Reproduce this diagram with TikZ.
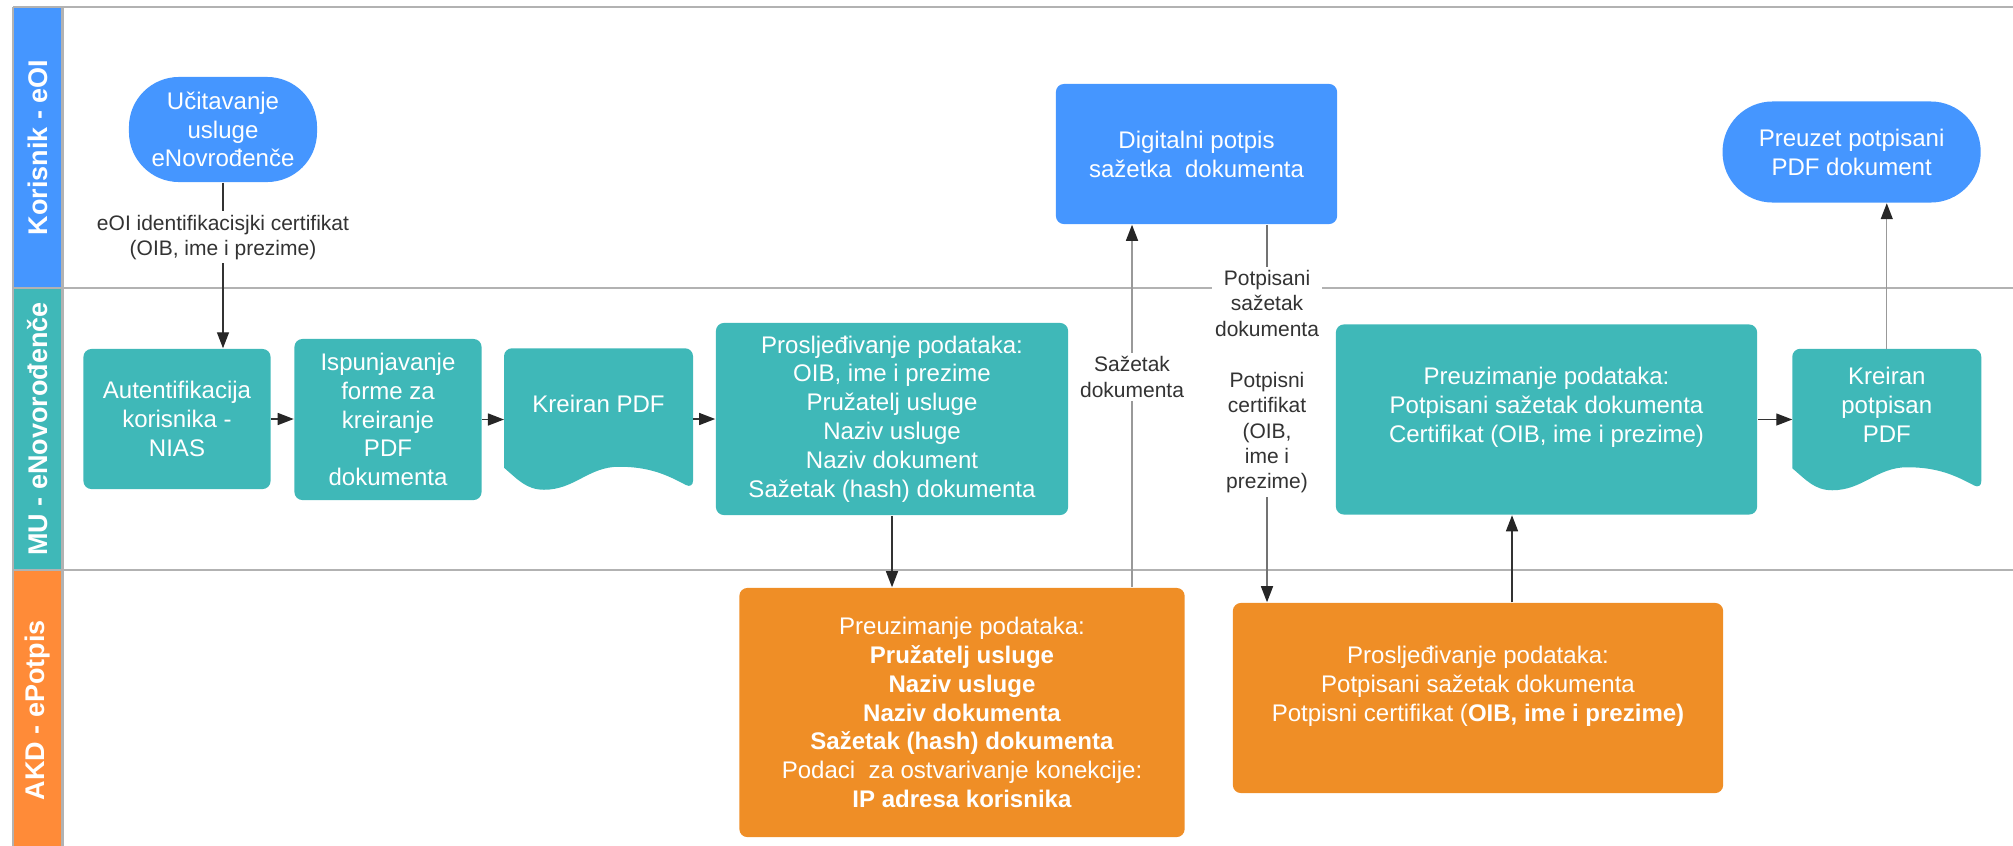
\documentclass[tikz,border=0pt]{standalone}
\usepackage{fontspec}
\setmainfont{Liberation Sans}
\usepackage{tikz}
\usetikzlibrary{arrows.meta}
\usetikzlibrary{backgrounds}
\usepackage{color}
\definecolor{plava}{RGB}{69,150,255}
\definecolor{tirk}{RGB}{63,184,184}
\definecolor{nar}{RGB}{255,139,56}
\definecolor{narbox}{RGB}{239,142,38}
\definecolor{crta}{RGB}{178,178,178}
\def\tekst{\fontsize{6.83pt}{8.2pt}\selectfont}
\def\oznaka{\fontsize{5.97pt}{7.23pt}\selectfont}
\def\traka{\fontsize{7.68pt}{9pt}\selectfont\bfseries}

\begin{document}
\begin{tikzpicture}[x=0.01cm,y=0.01cm,
  kutija/.style={rounded corners=0.08cm, text=white, align=center, font=\tekst, inner sep=0pt},
  stadion/.style={kutija, fill=plava, rounded corners=0.5cm},
  natpis/.style={text=white, font=\traka, rotate=90},
  lbl/.style={font=\oznaka, fill=white, text=black!80, align=center, inner sep=1pt},
  veza/.style={draw=black!80, line width=0.4pt, -{Triangle[length=0.16cm,width=0.12cm,color=black!85]}},
  slaba/.style={veza, draw=black!40},
  granica/.style={draw=crta, line width=0.6pt}]
\useasboundingbox (0,0) rectangle (2013,-845);
\fill[plava] (13,-7) rectangle (62.5,-288);
\fill[tirk] (13,-288) rectangle (62.5,-570);
\fill[nar] (13,-570) rectangle (62.5,-850);
\draw[granica] (13,-7) -- (2013,-7);
\draw[granica] (13,-288) -- (2013,-288);
\draw[granica] (13,-570) -- (2013,-570);
\draw[granica] (13,-7) -- (13,-850);
\draw[granica] (62.5,-7) -- (62.5,-850);
\node[natpis] (korisnik) at (37.75,-147.5) {Korisnik - eOI};
\node[natpis] (mu) at (37.75,-429) {MU - eNovorođenče};
\node[natpis] (akd) at (37.75,-710) {AKD - ePotpis};

\node[stadion, minimum width=1.88cm, minimum height=1.05cm] (ucit) at (223,-129.5) {Učitavanje\\usluge\\eNovrođenče};
\node[kutija, fill=tirk, minimum width=1.87cm, minimum height=1.40cm] (aut) at (177,-419) {Autentifikacija\\korisnika -\\NIAS};
\node[kutija, fill=tirk, minimum width=1.87cm, minimum height=1.61cm] (isp) at (388,-419.5) {Ispunjavanje\\forme za\\kreiranje\\PDF\\dokumenta};
\node[kutija, minimum width=1.875cm, minimum height=1.10cm] (kpdf) at (598.5,-404) {Kreiran PDF};
\node[kutija, fill=tirk, minimum width=3.52cm, minimum height=1.92cm] (pros) at (892,-419) {Prosljeđivanje podataka:\\OIB, ime i prezime\\Pružatelj usluge\\Naziv usluge\\Naziv dokument\\Sažetak (hash) dokumenta};
\node[kutija, fill=plava, minimum width=2.81cm, minimum height=1.40cm] (dig) at (1196.5,-154) {Digitalni potpis\\sažetka\ \ dokumenta};
\node[kutija, fill=tirk, minimum width=4.21cm, minimum height=1.90cm] (preu) at (1546.5,-419.5) {Preuzimanje podataka:\\Potpisani sažetak dokumenta\\Certifikat (OIB, ime i prezime)\\~};
\node[kutija, minimum width=1.875cm, minimum height=1.10cm] (kpot) at (1886.75,-404.5) {Kreiran\\potpisan\\PDF};
\node[stadion, minimum width=2.58cm, minimum height=1.01cm] (preuzet) at (1851.6,-152) {Preuzet potpisani\\PDF dokument};
\node[kutija, fill=narbox, minimum width=4.45cm, minimum height=2.49cm] (akd1) at (962,-712.5) {Preuzimanje podataka:\\\textbf{Pružatelj usluge}\\\textbf{Naziv usluge}\\\textbf{Naziv dokumenta}\\\textbf{Sažetak (hash) dokumenta}\\Podaci\ \ za ostvarivanje konekcije:\\\textbf{IP adresa korisnika}};
\node[kutija, fill=narbox, minimum width=4.90cm, minimum height=1.90cm] (akd2) at (1478,-698) {Prosljeđivanje podataka:\\Potpisani sažetak dokumenta\\Potpisni certifikat (\textbf{OIB, ime i prezime)}\\~};

\begin{scope}[on background layer]
\foreach \d in {kpdf,kpot}
  \fill[tirk] ([yshift=-0.08cm]\d.south west) [rounded corners=0.08cm] -- (\d.north west) -- (\d.north east) -- ([yshift=-0.29cm]\d.south east) [sharp corners] to[out=152,in=0] ([xshift=-0.74cm,yshift=-0.07cm]\d.south east) to[out=180,in=0] ([xshift=0.40cm,yshift=-0.30cm]\d.south west) to[out=180,in=-40] ([yshift=-0.08cm]\d.south west) -- cycle;
\end{scope}

\coordinate (s1) at (1132,0);
\coordinate (s2) at (1267,0);
\coordinate (s3) at (1512,0);
\draw[veza] (ucit.south) -- node[lbl, pos=0.33] {eOI identifikacisjki certifikat\\(OIB, ime i prezime)} (ucit.south |- aut.north);
\draw[veza] (aut.east) -- (aut.east -| isp.west);
\draw[veza] (isp.east) -- (isp.east -| kpdf.west);
\draw[veza] (kpdf.east |- pros.west) -- (pros.west);
\draw[veza] (pros.south) -- (pros.south |- akd1.north);
\draw[slaba] (s1 |- akd1.north) -- node[lbl, pos=0.58] {Sažetak\\dokumenta} (s1 |- dig.south);
\draw[veza, draw=black!55] (s2 |- dig.south) -- node[lbl, pos=0.416] {Potpisani\\sažetak\\dokumenta\\[7.23pt]Potpisni\\certifikat\\(OIB,\\ime i\\prezime)} (s2 |- akd2.north);
\draw[veza] (s3 |- akd2.north) -- (s3 |- preu.south);
\draw[veza] (preu.east) -- (preu.east -| kpot.west);
\draw[slaba] (kpot.north) -- (kpot.north |- preuzet.south);
\end{tikzpicture}
\end{document}
